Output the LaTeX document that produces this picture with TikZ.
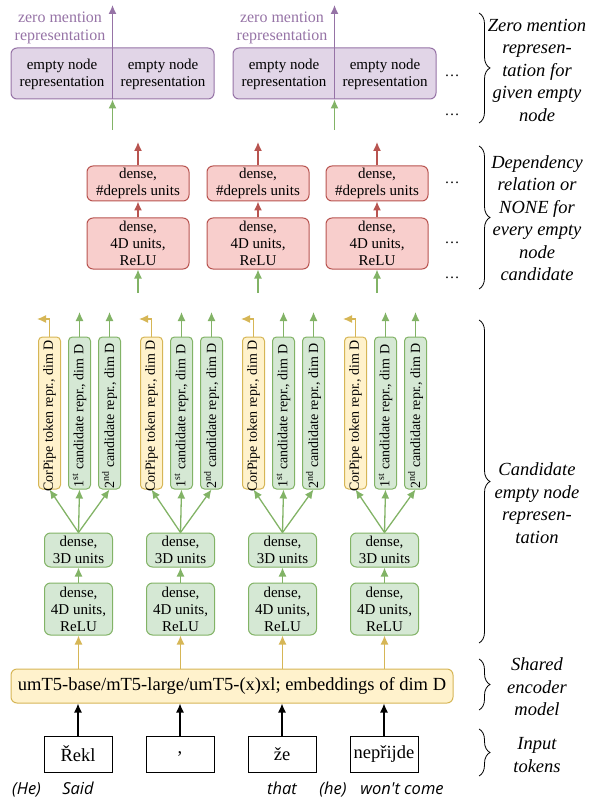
\documentclass[tikz,border=0pt]{standalone}
\usepackage{fontspec}
\setmainfont{Liberation Serif}
\newfontfamily\glossfont{Open Sans}
\usepackage{tikz}
\usetikzlibrary{arrows.meta,decorations.pathreplacing}

\definecolor{purpleFill}{HTML}{E1D5E7}
\definecolor{purpleLine}{HTML}{9673A6}
\definecolor{redFill}{HTML}{F8CECC}
\definecolor{redLine}{HTML}{B85450}
\definecolor{greenFill}{HTML}{D5E8D4}
\definecolor{greenLine}{HTML}{82B366}
\definecolor{yellowFill}{HTML}{FFF2CC}
\definecolor{yellowLine}{HTML}{D6B656}

\newcommand{\boxfont}{\fontsize{15}{17}\selectfont}
\newcommand{\vertfont}{\fontsize{14}{16}\selectfont}
\newcommand{\bigfont}{\fontsize{18.5}{21}\selectfont}
\newcommand{\sidefont}{\fontsize{18.5}{22.5}\selectfont\itshape}
\newcommand{\zmfont}{\fontsize{16}{18}\selectfont}

\begin{document}
\begin{tikzpicture}[x=1pt, y=1pt]

	\tikzstyle{box_purple} = [draw=purpleLine, fill=purpleFill, rounded corners=6pt, line width=1pt, minimum width=203pt, minimum height=51pt, inner sep=0pt]
	\tikzstyle{text_purple} = [align=center, font=\boxfont, inner sep=0pt]
	\tikzstyle{label_purple} = [align=center, font=\zmfont, text=purpleLine, inner sep=0pt]
	\tikzstyle{box_red} = [draw=redLine, fill=redFill, rounded corners=6pt, line width=1pt, minimum width=102pt, inner sep=0pt, align=center, font=\boxfont]
	\tikzstyle{box_green} = [draw=greenLine, fill=greenFill, rounded corners=6pt, line width=1pt, minimum width=68pt, inner sep=0pt, align=center, font=\boxfont]
	\tikzstyle{box_green_v} = [draw=greenLine, fill=greenFill, rounded corners=4pt, line width=1pt, minimum width=152pt, minimum height=22pt, inner sep=0pt, rotate=90, font=\vertfont]
	\tikzstyle{box_yellow_v} = [draw=yellowLine, fill=yellowFill, rounded corners=4pt, line width=1pt, minimum width=152pt, minimum height=22pt, inner sep=0pt, rotate=90, font=\vertfont]
	\tikzstyle{box_encoder} = [draw=yellowLine, fill=yellowFill, rounded corners=6pt, line width=1pt, minimum width=442pt, minimum height=34pt, inner sep=0pt, font=\bigfont]
	\tikzstyle{box_token} = [draw=black, line width=0.8pt, minimum width=68pt, minimum height=36pt, inner sep=0pt, font=\bigfont]
	\tikzstyle{arrow_green} = [-{Latex[length=9pt,width=8pt]}, draw=greenLine, line width=1.3pt]
	\tikzstyle{arrow_red} = [-{Latex[length=9pt,width=8pt]}, draw=redLine, line width=1.3pt]
	\tikzstyle{arrow_purple} = [-{Latex[length=9pt,width=8pt]}, draw=purpleLine, line width=1.3pt]
	\tikzstyle{arrow_yellow} = [-{Latex[length=9pt,width=8pt]}, draw=yellowLine, line width=1.3pt]
	\tikzstyle{arrow_black} = [-{Latex[length=9pt,width=8pt]}, draw=black, line width=1.3pt]
	\tikzstyle{brace_line} = [decorate, decoration={brace, amplitude=11pt}, line width=0.8pt]
	\tikzstyle{side_label} = [align=center, font=\sidefont, inner sep=0pt]
	\tikzstyle{gloss} = [font=\fontsize{16.5}{19}\selectfont\glossfont\itshape, inner sep=0pt, anchor=base]
	\tikzstyle{dots} = [font=\boxfont, inner sep=0pt]

	\useasboundingbox (0,0) rectangle (594,-799);

%------------------------------------------------------------
	\node[box_purple] (zm1) at (112.5,-73.5) {};
	\node[text_purple] (zm1a) at (62,-74.5) {empty node\\representation};
	\node[text_purple] (zm1b) at (163,-74.5) {empty node\\representation};
	\node[label_purple] (zm1lab) at (60,-27.5) {zero mention\\representation};
	\coordinate (zm1out) at (112.5,-5);
	\coordinate (zm1in) at (112.5,-130);

	\draw[arrow_purple] (zm1.south) -- (zm1out);
	\draw[arrow_green] (zm1in) -- (zm1.south);

	\node[box_purple] (zm2) at (334.5,-73.5) {};
	\node[text_purple] (zm2a) at (284,-74.5) {empty node\\representation};
	\node[text_purple] (zm2b) at (385,-74.5) {empty node\\representation};
	\node[label_purple] (zm2lab) at (282,-27.5) {zero mention\\representation};
	\coordinate (zm2out) at (334.5,-5);
	\coordinate (zm2in) at (334.5,-130);

	\draw[arrow_purple] (zm2.south) -- (zm2out);
	\draw[arrow_green] (zm2in) -- (zm2.south);
%------------------------------------------------------------
	\node[box_red, minimum height=35pt] (dep1) at (138,-183.5) {dense,\\\#deprels units};
	\node[box_red, minimum height=51pt] (rel1) at (138,-243.5) {dense,\\4D units,\\ReLU};
	\node[box_red, minimum height=35pt] (dep2) at (258,-183.5) {dense,\\\#deprels units};
	\node[box_red, minimum height=51pt] (rel2) at (258,-243.5) {dense,\\4D units,\\ReLU};
	\node[box_red, minimum height=35pt] (dep3) at (377,-183.5) {dense,\\\#deprels units};
	\node[box_red, minimum height=51pt] (rel3) at (377,-243.5) {dense,\\4D units,\\ReLU};
	\coordinate (dep1out) at (138,-142);
	\coordinate (dep2out) at (258,-142);
	\coordinate (dep3out) at (377,-142);
	\coordinate (rel1in) at (138,-293);
	\coordinate (rel2in) at (258,-293);
	\coordinate (rel3in) at (377,-293);

	\draw[arrow_red] (dep1.north) -- (dep1out);
	\draw[arrow_red] (dep2.north) -- (dep2out);
	\draw[arrow_red] (dep3.north) -- (dep3out);
	\draw[arrow_red] (rel1.north) -- (dep1.south);
	\draw[arrow_red] (rel2.north) -- (dep2.south);
	\draw[arrow_red] (rel3.north) -- (dep3.south);
	\draw[arrow_green] (rel1in) -- (rel1.south);
	\draw[arrow_green] (rel2in) -- (rel2.south);
	\draw[arrow_green] (rel3in) -- (rel3.south);
%------------------------------------------------------------
	\node[box_encoder] (enc) at (232,-686) {umT5-base/mT5-large/umT5-(x)xl; embeddings of dim D};

	\node[box_token] (tok1) at (78,-754) {Řekl};
	\node[box_token] (tok2) at (180,-754) {,};
	\node[box_token] (tok3) at (282,-754) {že};
	\node[box_token] (tok4) at (384,-754) {nepřijde};

	\draw[arrow_black] (tok1.north) -- (tok1.north |- enc.south);
	\draw[arrow_black] (tok2.north) -- (tok2.north |- enc.south);
	\draw[arrow_black] (tok3.north) -- (tok3.north |- enc.south);
	\draw[arrow_black] (tok4.north) -- (tok4.north |- enc.south);
%------------------------------------------------------------
	\node[box_green, minimum height=52pt] (ff1) at (78.5,-609) {dense,\\4D units,\\ReLU};
	\node[box_green, minimum height=34pt] (pr1) at (78.5,-550) {dense,\\3D units};
	\node[box_yellow_v] (cp1) at (49.5,-413) {\hspace*{-6pt}CorPipe token repr., dim D};
	\node[box_green_v] (ca1) at (79.5,-413) {\hspace*{-6pt}1\textsuperscript{st} candidate repr., dim D};
	\node[box_green_v] (cb1) at (109.5,-413) {\hspace*{-6pt}2\textsuperscript{nd} candidate repr., dim D};
	\coordinate (cp1out) at (37,-319);
	\coordinate (ca1out) at (79.5,-312);
	\coordinate (cb1out) at (109.5,-312);

	\draw[arrow_yellow] (ff1.south |- enc.north) -- (ff1.south);
	\draw[arrow_green] (ff1.north) -- (pr1.south);
	\draw[arrow_green] (pr1.north) -- (cp1.west);
	\draw[arrow_green] (pr1.north) -- (ca1.west);
	\draw[arrow_green] (pr1.north) -- (cb1.west);
	\draw[arrow_yellow] (cp1.east) |- (cp1out);
	\draw[arrow_green] (ca1.east) -- (ca1out);
	\draw[arrow_green] (cb1.east) -- (cb1out);
%------------------------------------------------------------
	\node[box_green, minimum height=52pt] (ff2) at (180.5,-609) {dense,\\4D units,\\ReLU};
	\node[box_green, minimum height=34pt] (pr2) at (180.5,-550) {dense,\\3D units};
	\node[box_yellow_v] (cp2) at (151.5,-413) {\hspace*{-6pt}CorPipe token repr., dim D};
	\node[box_green_v] (ca2) at (181.5,-413) {\hspace*{-6pt}1\textsuperscript{st} candidate repr., dim D};
	\node[box_green_v] (cb2) at (211.5,-413) {\hspace*{-6pt}2\textsuperscript{nd} candidate repr., dim D};
	\coordinate (cp2out) at (139,-319);
	\coordinate (ca2out) at (181.5,-312);
	\coordinate (cb2out) at (211.5,-312);

	\draw[arrow_yellow] (ff2.south |- enc.north) -- (ff2.south);
	\draw[arrow_green] (ff2.north) -- (pr2.south);
	\draw[arrow_green] (pr2.north) -- (cp2.west);
	\draw[arrow_green] (pr2.north) -- (ca2.west);
	\draw[arrow_green] (pr2.north) -- (cb2.west);
	\draw[arrow_yellow] (cp2.east) |- (cp2out);
	\draw[arrow_green] (ca2.east) -- (ca2out);
	\draw[arrow_green] (cb2.east) -- (cb2out);
%------------------------------------------------------------
	\node[box_green, minimum height=52pt] (ff3) at (282.5,-609) {dense,\\4D units,\\ReLU};
	\node[box_green, minimum height=34pt] (pr3) at (282.5,-550) {dense,\\3D units};
	\node[box_yellow_v] (cp3) at (253.5,-413) {\hspace*{-6pt}CorPipe token repr., dim D};
	\node[box_green_v] (ca3) at (283.5,-413) {\hspace*{-6pt}1\textsuperscript{st} candidate repr., dim D};
	\node[box_green_v] (cb3) at (313.5,-413) {\hspace*{-6pt}2\textsuperscript{nd} candidate repr., dim D};
	\coordinate (cp3out) at (241,-319);
	\coordinate (ca3out) at (283.5,-312);
	\coordinate (cb3out) at (313.5,-312);

	\draw[arrow_yellow] (ff3.south |- enc.north) -- (ff3.south);
	\draw[arrow_green] (ff3.north) -- (pr3.south);
	\draw[arrow_green] (pr3.north) -- (cp3.west);
	\draw[arrow_green] (pr3.north) -- (ca3.west);
	\draw[arrow_green] (pr3.north) -- (cb3.west);
	\draw[arrow_yellow] (cp3.east) |- (cp3out);
	\draw[arrow_green] (ca3.east) -- (ca3out);
	\draw[arrow_green] (cb3.east) -- (cb3out);
%------------------------------------------------------------
	\node[box_green, minimum height=52pt] (ff4) at (384.5,-609) {dense,\\4D units,\\ReLU};
	\node[box_green, minimum height=34pt] (pr4) at (384.5,-550) {dense,\\3D units};
	\node[box_yellow_v] (cp4) at (355.5,-413) {\hspace*{-6pt}CorPipe token repr., dim D};
	\node[box_green_v] (ca4) at (385.5,-413) {\hspace*{-6pt}1\textsuperscript{st} candidate repr., dim D};
	\node[box_green_v] (cb4) at (415.5,-413) {\hspace*{-6pt}2\textsuperscript{nd} candidate repr., dim D};
	\coordinate (cp4out) at (343,-319);
	\coordinate (ca4out) at (385.5,-312);
	\coordinate (cb4out) at (415.5,-312);

	\draw[arrow_yellow] (ff4.south |- enc.north) -- (ff4.south);
	\draw[arrow_green] (ff4.north) -- (pr4.south);
	\draw[arrow_green] (pr4.north) -- (cp4.west);
	\draw[arrow_green] (pr4.north) -- (ca4.west);
	\draw[arrow_green] (pr4.north) -- (cb4.west);
	\draw[arrow_yellow] (cp4.east) |- (cp4out);
	\draw[arrow_green] (ca4.east) -- (ca4out);
	\draw[arrow_green] (cb4.east) -- (cb4out);
%------------------------------------------------------------
	\node[dots] (dots1) at (452,-76) {\ldots};
	\node[dots] (dots2) at (452,-115) {\ldots};
	\node[dots] (dots3) at (452,-183) {\ldots};
	\node[dots] (dots4) at (452,-243) {\ldots};
	\node[dots] (dots5) at (452,-278) {\ldots};
%------------------------------------------------------------
	\coordinate (br1t) at (479,-13);
	\coordinate (br1b) at (479,-123);
	\coordinate (br2t) at (479,-146);
	\coordinate (br2b) at (479,-289);
	\coordinate (br3t) at (479,-320);
	\coordinate (br3b) at (479,-643);
	\coordinate (br4t) at (479,-659);
	\coordinate (br4b) at (479,-710);
	\coordinate (br5t) at (479,-729);
	\coordinate (br5b) at (479,-776);

	\draw[brace_line] (br1t) -- (br1b);
	\draw[brace_line] (br2t) -- (br2b);
	\draw[brace_line] (br3t) -- (br3b);
	\draw[brace_line] (br4t) -- (br4b);
	\draw[brace_line] (br5t) -- (br5b);

	\node[side_label] (lab1) at (537,-70) {Zero mention\\represen-\\tation for\\given empty\\node};
	\node[side_label] (lab2) at (537,-218) {Dependency\\relation or\\NONE for\\every empty\\node\\candidate};
	\node[side_label] (lab3) at (537,-503) {Candidate\\empty node\\represen-\\tation};
	\node[side_label] (lab4) at (537,-687) {Shared\\encoder\\model};
	\node[side_label] (lab5) at (537,-755) {Input\\tokens};
%------------------------------------------------------------
	\node[gloss] (gl1) at (26.5,-794) {(He)};
	\node[gloss] (gl2) at (78,-794) {Said};
	\node[gloss] (gl3) at (282,-794) {that};
	\node[gloss] (gl4) at (333,-794) {(he)};
	\node[gloss] (gl5) at (402,-794) {won't come};

\end{tikzpicture}
\end{document}
